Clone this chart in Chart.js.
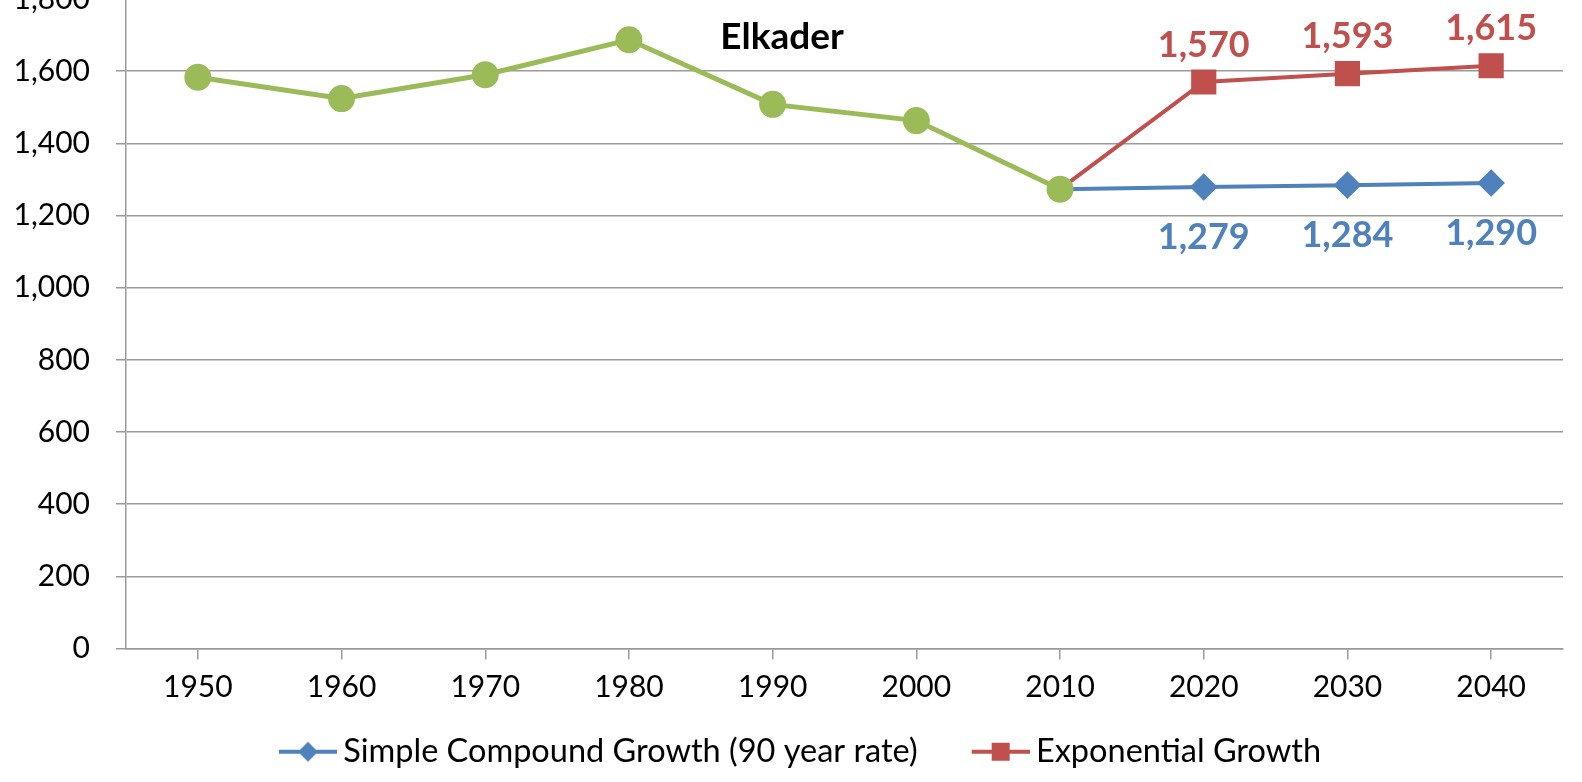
<!DOCTYPE html>
<html>
<head>
<meta charset="utf-8">
<script src="https://cdn.jsdelivr.net/npm/chart.js@4.4.1/dist/chart.umd.min.js"></script>
<style>
html, body { margin: 0; padding: 0; background: #fff; overflow: hidden; }
body { position: relative; width: 1582px; height: 782px; }
/* shifted up so the top tick label is half cut, as in the source image */
#wrap { position: absolute; left: 0; top: -45px; width: 1582px; height: 823px; }
</style>
</head>
<body>
<div id="wrap"><canvas id="chart"></canvas></div>
<script>
const years = ['1950', '1960', '1970', '1980', '1990', '2000', '2010', '2020', '2030', '2040'];
const historical = [1583, 1524, 1590, 1687, 1508, 1463, 1273, null, null, null];
const compound = [null, null, null, null, null, null, 1273, 1279, 1284, 1290];
const exponential = [null, null, null, null, null, null, 1273, 1570, 1593, 1615];
const labelledFrom = 7; // first projected year that gets a value label

const GREEN = '#9BBB59', BLUE = '#4F81BD', RED = '#C0504D', GRID = '#9a9a9a';
const FONT = 'Lato, "Open Sans", sans-serif';
const LEGEND_BOX = 72;

// line + marker swatch, drawn at the right end of a wider transparent image
function legendIcon(color, style) {
    const c = document.createElement('canvas');
    c.width = LEGEND_BOX + 20; c.height = 24;
    const g = c.getContext('2d');
    const x0 = c.width - 58;
    g.strokeStyle = color; g.lineWidth = 4;
    g.beginPath(); g.moveTo(x0, 12); g.lineTo(x0 + 58, 12); g.stroke();
    g.fillStyle = color;
    if (style === 'diamond') {
        g.beginPath();
        g.moveTo(x0 + 29, 2); g.lineTo(x0 + 39, 12); g.lineTo(x0 + 29, 22); g.lineTo(x0 + 19, 12);
        g.closePath(); g.fill();
    } else {
        g.fillRect(x0 + 20, 3, 18, 18);
    }
    return c;
}
const icons = { compound: legendIcon(BLUE, 'diamond'), exponential: legendIcon(RED, 'square') };

const valueLabels = {
    id: 'valueLabels',
    afterDatasetsDraw(chart) {
        const ctx = chart.ctx;
        ctx.save();
        ctx.font = 'bold 36px ' + FONT;
        ctx.textAlign = 'center';
        ctx.textBaseline = 'middle';
        chart.data.datasets.forEach((ds, di) => {
            if (!ds.labelPos) return;
            const meta = chart.getDatasetMeta(di);
            ds.data.forEach((v, i) => {
                if (v == null || i < labelledFrom) return;
                const pt = meta.data[i];
                ctx.fillStyle = ds.borderColor;
                const dy = ds.labelPos === 'above' ? -37 : 50;
                ctx.fillText(v.toLocaleString('en-US'), pt.x, pt.y + dy);
            });
        });
        ctx.fillStyle = '#000';
        ctx.font = 'bold 37px ' + FONT;
        ctx.fillText('Elkader', chart.width / 2 - 9, chart.chartArea.top + 38);
        ctx.restore();
    }
};

const projR = years.map((y, i) => i < labelledFrom ? 0 : 1);

new Chart(document.getElementById('chart'), {
    type: 'line',
    data: {
        labels: years,
        datasets: [{
            label: 'Historical',
            data: historical,
            borderColor: GREEN,
            backgroundColor: GREEN,
            borderWidth: 5,
            pointStyle: 'circle',
            pointRadius: 11,
            order: 0
        }, {
            label: 'Simple Compound Growth (90 year rate)',
            data: compound,
            borderColor: BLUE,
            backgroundColor: BLUE,
            borderWidth: 4,
            pointStyle: 'rectRot',
            pointRadius: projR.map(r => r * 11),
            labelPos: 'below',
            order: 1
        }, {
            label: 'Exponential Growth',
            data: exponential,
            borderColor: RED,
            backgroundColor: RED,
            borderWidth: 4,
            pointStyle: 'rect',
            pointRadius: projR.map(r => r * 15),
            labelPos: 'above',
            order: 1
        }]
    },
    options: {
        responsive: true,
        maintainAspectRatio: false,
        animation: false,
        layout: { padding: { left: 0, right: 6, top: 0, bottom: 0 } },
        plugins: {
            tooltip: { enabled: false },
            legend: {
                position: 'bottom',
                labels: {
                    color: '#000',
                    font: { family: FONT, size: 32.5 },
                    usePointStyle: true,
                    pointStyleWidth: LEGEND_BOX,
                    padding: 30,
                    filter: item => item.datasetIndex !== 0,
                    generateLabels: chart => Chart.defaults.plugins.legend.labels.generateLabels(chart).map(item => {
                        item.pointStyle = item.datasetIndex === 1 ? icons.compound : icons.exponential;
                        return item;
                    })
                }
            }
        },
        scales: {
            x: {
                offset: true,
                grid: { display: true, drawOnChartArea: false, drawTicks: true, tickLength: 11, color: GRID, lineWidth: 1.5 },
                border: { display: true, color: GRID, width: 1.5 },
                ticks: { color: '#000', font: { family: FONT, size: 30 }, padding: 10, maxRotation: 0 },
                afterFit: s => { s.height = 57; }
            },
            y: {
                min: 0,
                max: 1800,
                grid: { color: GRID, lineWidth: 1.5, tickLength: 10 },
                border: { display: true, color: GRID, width: 1.5 },
                ticks: {
                    stepSize: 200,
                    color: '#000',
                    font: { family: FONT, size: 30 },
                    padding: 26,
                    callback: v => v.toLocaleString('en-US')
                },
                afterFit: s => { s.width = 126; }
            }
        }
    },
    plugins: [valueLabels]
});
</script>
</body>
</html>
